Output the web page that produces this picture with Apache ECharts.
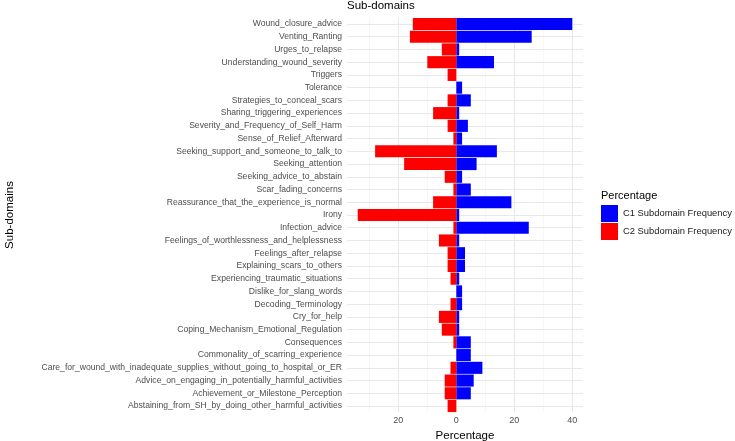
<!DOCTYPE html>
<html>
<head>
<meta charset="utf-8">
<script src="https://cdn.jsdelivr.net/npm/echarts@6/dist/echarts.min.js"></script>
<style>
  html, body { margin: 0; padding: 0; background: #fff; }
  #chart { width: 735px; height: 441px; }
</style>
</head>
<body>
<div id="chart"></div>
<script>
// sub-domains, top to bottom as in the plot
const subDomains = [
  "Wound_closure_advice",
  "Venting_Ranting",
  "Urges_to_relapse",
  "Understanding_wound_severity",
  "Triggers",
  "Tolerance",
  "Strategies_to_conceal_scars",
  "Sharing_triggering_experiences",
  "Severity_and_Frequency_of_Self_Harm",
  "Sense_of_Relief_Afterward",
  "Seeking_support_and_someone_to_talk_to",
  "Seeking_attention",
  "Seeking_advice_to_abstain",
  "Scar_fading_concerns",
  "Reassurance_that_the_experience_is_normal",
  "Irony",
  "Infection_advice",
  "Feelings_of_worthlessness_and_helplessness",
  "Feelings_after_relapse",
  "Explaining_scars_to_others",
  "Experiencing_traumatic_situations",
  "Dislike_for_slang_words",
  "Decoding_Terminology",
  "Cry_for_help",
  "Coping_Mechanism_Emotional_Regulation",
  "Consequences",
  "Commonality_of_scarring_experience",
  "Care_for_wound_with_inadequate_supplies_without_going_to_hospital_or_ER",
  "Advice_on_engaging_in_potentially_harmful_activities",
  "Achievement_or_Milestone_Perception",
  "Abstaining_from_SH_by_doing_other_harmful_activities"
];

// percentages (C2 is drawn to the left)
const c1Freq = [40, 26, 1, 13, 0, 2, 5, 1, 4, 2, 14, 7, 2, 5, 19, 1,
                25, 1, 3, 3, 1, 2, 2, 1, 1, 5, 5, 9, 6, 5, 0];
const c2Freq = [15, 16, 5, 10, 3, 0, 3, 8, 3, 1, 28, 18, 4, 1, 8, 34,
                1, 6, 3, 3, 2, 0, 2, 6, 5, 1, 0, 2, 4, 4, 3];

const seriesNames = ["C1 Subdomain Frequency", "C2 Subdomain Frequency"];
const majorTicks = [-20, 0, 20, 40];
const minorTicks = [-30, -10, 10, 30];

const FONT = "Liberation Sans, Arial, sans-serif";

const chart = echarts.init(document.getElementById("chart"));

// grid lines like ggplot's theme_minimal (drawn under the bars)
const gridLines = [
  ...minorTicks.map(v => ({ xAxis: v, lineStyle: { color: "#f2f2f2", width: 0.6, type: "solid" } })),
  ...majorTicks.map(v => ({ xAxis: v, lineStyle: { color: "#e8e8e8", width: 1, type: "solid" } })),
  ...subDomains.map(c => ({ yAxis: c, lineStyle: { color: "#e8e8e8", width: 1, type: "solid" } }))
];

chart.setOption({
  animation: false,
  textStyle: { fontFamily: FONT },
  title: [
    { text: "Sub-domains", left: 347, top: 0, padding: 0,
      textStyle: { fontSize: 11.5, fontWeight: "normal", color: "#000", fontFamily: FONT } },
    { text: "Percentage", left: 601, top: 190, padding: 0,
      textStyle: { fontSize: 11, fontWeight: "normal", color: "#000", fontFamily: FONT } }
  ],
  legend: {
    data: seriesNames,
    orient: "vertical",
    left: 601,
    top: 205,
    padding: 0,
    itemWidth: 17,
    itemHeight: 17,
    itemGap: 1,
    itemTextGap: 8,
    icon: "rect",
    textStyle: { fontSize: 9.4, color: "#1a1a1a", fontFamily: FONT }
  },
  grid: {
    left: 347, right: 152, top: 17.6, bottom: 28.6,
    containLabel: false,
    outerBoundsMode: "none"
  },
  xAxis: {
    type: "value",
    min: -37.7,
    max: 43.7,
    name: "Percentage",
    nameLocation: "middle",
    nameGap: 15,
    nameTextStyle: { fontSize: 11.5, color: "#000", fontFamily: FONT },
    axisLine: { show: false },
    axisTick: { show: false },
    splitLine: { show: false },
    axisLabel: {
      customValues: majorTicks,
      formatter: v => String(Math.abs(v)),
      fontSize: 9,
      color: "#4d4d4d",
      margin: 4,
      fontFamily: FONT
    }
  },
  yAxis: {
    type: "category",
    data: subDomains,
    inverse: true,
    name: "Sub-domains",
    nameLocation: "middle",
    nameGap: 331,
    nameRotate: 90,
    nameTextStyle: { fontSize: 11.5, color: "#000", fontFamily: FONT },
    axisLine: { show: false },
    axisTick: { show: false },
    splitLine: { show: false },
    axisLabel: { fontSize: 8.6, color: "#4d4d4d", margin: 5, interval: 0, fontFamily: FONT }
  },
  series: [
    {
      type: "line",
      data: [],
      silent: true,
      z: 0,
      markLine: {
        z: 0,
        silent: true,
        symbol: "none",
        label: { show: false },
        data: gridLines
      }
    },
    {
      name: seriesNames[0],
      type: "bar",
      stack: "freq",
      z: 2,
      barCategoryGap: "5%",
      itemStyle: { color: "#0000ff" },
      data: c1Freq
    },
    {
      name: seriesNames[1],
      type: "bar",
      stack: "freq",
      z: 2,
      itemStyle: { color: "#ff0000" },
      data: c2Freq.map(v => -v)
    }
  ]
});
</script>
</body>
</html>
